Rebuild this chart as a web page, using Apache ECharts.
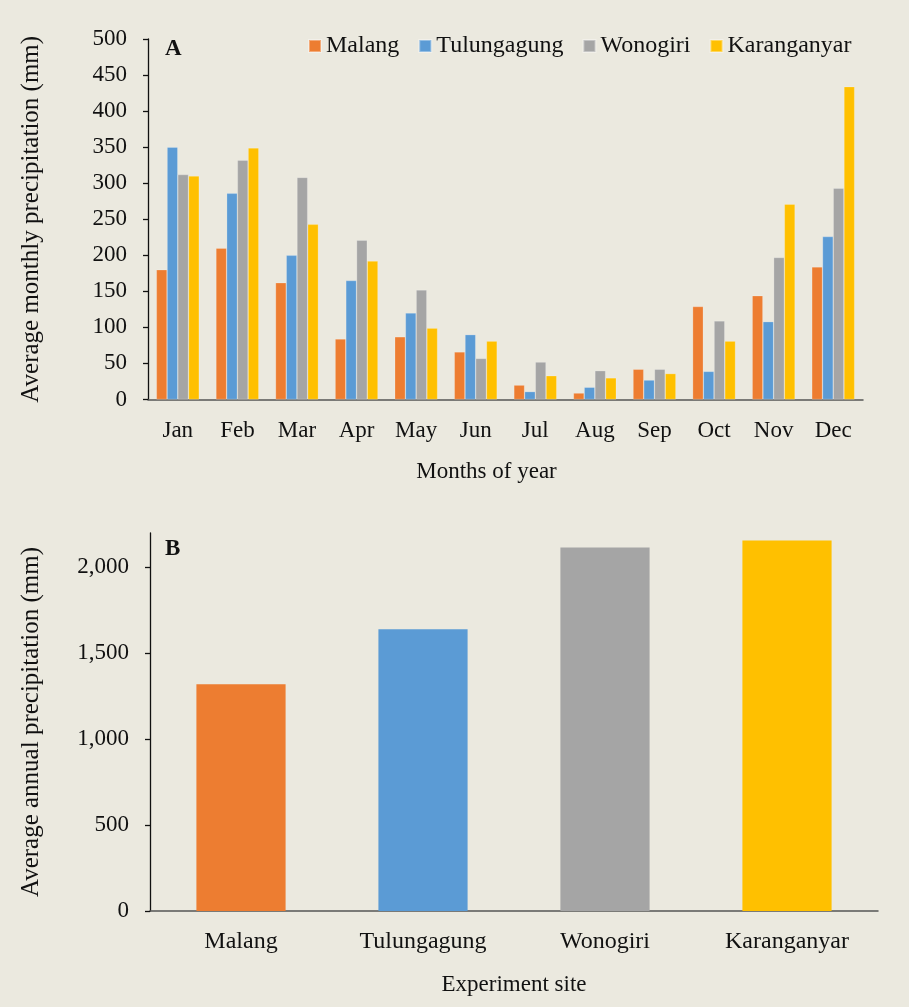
<!DOCTYPE html>
<html>
<head>
<meta charset="utf-8">
<script src="https://cdn.jsdelivr.net/npm/echarts@6/dist/echarts.min.js"></script>
<style>
  html, body { margin: 0; padding: 0; background: #EBE9DF; }
  #chart { width: 909px; height: 1007px; }
</style>
</head>
<body>
<div id="chart"></div>
<script>
// Monthly and annual precipitation at four experiment sites
const months = ['Jan', 'Feb', 'Mar', 'Apr', 'May', 'Jun', 'Jul', 'Aug', 'Sep', 'Oct', 'Nov', 'Dec'];
const sites = ['Malang', 'Tulungagung', 'Wonogiri', 'Karanganyar'];

const malangMonthly      = [180, 210, 162, 84, 87, 66, 20, 9, 42, 129, 144, 184];
const tulungagungMonthly = [350, 286, 200, 165, 120, 90, 11, 17, 27, 39, 108, 226];
const wonogiriMonthly    = [312, 332, 308, 221, 152, 57, 52, 40, 42, 109, 197, 293];
const karanganyarMonthly = [310, 349, 243, 192, 99, 81, 33, 30, 36, 81, 271, 434];

const annualTotals = [1320, 1640, 2115, 2157];

const monthlyTicks = [0, 50, 100, 150, 200, 250, 300, 350, 400, 450, 500];
const annualTicks = [0, 500, 1000, 1500, 2000];

const siteColors = ['#ED7D31', '#5B9BD5', '#A5A5A5', '#FFC000'];
const monthlySeries = [malangMonthly, tulungagungMonthly, wonogiriMonthly, karanganyarMonthly];

const FONT = '"Liberation Serif", "Times New Roman", serif';
const TXT = '#111';

const chart = echarts.init(document.getElementById('chart'), null, { renderer: 'canvas' });

const series = monthlySeries.map((vals, i) => ({
  name: sites[i],
  type: 'bar',
  xAxisIndex: 0,
  yAxisIndex: 0,
  data: vals,
  barGap: '0%',
  barCategoryGap: '28%',
  itemStyle: { color: siteColors[i], borderColor: 'rgba(255,255,255,0.35)', borderWidth: 0.6 }
}));

series.push({
  name: 'Annual',
  type: 'bar',
  xAxisIndex: 1,
  yAxisIndex: 1,
  barCategoryGap: '51%',
  data: annualTotals.map((v, i) => ({ value: v, itemStyle: { color: siteColors[i] } }))
});

chart.setOption({
  backgroundColor: '#EBE9DF',
  animation: false,
  textStyle: { fontFamily: FONT, color: TXT },
  legend: {
    data: sites,
    top: 34,
    left: 308,
    padding: 0,
    itemWidth: 12,
    itemHeight: 12,
    itemGap: 19,
    icon: 'rect',
    textStyle: { fontFamily: FONT, fontSize: 24, color: TXT }
  },
  grid: [
    { left: 148, right: 46, top: 39, bottom: 607.5 },
    { left: 150, right: 31, top: 533, bottom: 96 }
  ],
  xAxis: [
    {
      type: 'category', gridIndex: 0, data: months,
      name: 'Months of year', nameLocation: 'middle', nameGap: 61,
      nameTextStyle: { fontFamily: FONT, fontSize: 23, color: TXT, padding: [0, 38, 0, 0] },
      axisLine: { lineStyle: { color: '#555', width: 1.5 } },
      axisTick: { length: 6, lineStyle: { color: '#222', width: 1.5 } },
      axisLabel: { fontFamily: FONT, fontSize: 23, color: TXT, margin: 20 }
    },
    {
      type: 'category', gridIndex: 1, data: sites,
      name: 'Experiment site', nameLocation: 'middle', nameGap: 62,
      nameTextStyle: { fontFamily: FONT, fontSize: 23, color: TXT },
      axisLine: { lineStyle: { color: '#555', width: 1.5 } },
      axisTick: { length: 6, lineStyle: { color: '#222', width: 1.5 } },
      axisLabel: { fontFamily: FONT, fontSize: 24, color: TXT, margin: 19 }
    }
  ],
  yAxis: [
    {
      type: 'value', gridIndex: 0, min: 0, max: 500, interval: 50,
      name: 'Average monthly precipitation (mm)', nameLocation: 'middle', nameGap: 104,
      nameTextStyle: { fontFamily: FONT, fontSize: 25, color: TXT },
      axisLine: { show: true, lineStyle: { color: '#111', width: 1.3 } },
      axisTick: { show: true, length: 5, lineStyle: { color: '#111', width: 1.3 } },
      axisLabel: { fontFamily: FONT, fontSize: 23, color: TXT, margin: 21,
        customValues: monthlyTicks },
      splitLine: { show: false }
    },
    {
      type: 'value', gridIndex: 1, min: 0, max: 2200, interval: 500,
      name: 'Average annual precipitation (mm)', nameLocation: 'middle', nameGap: 106,
      nameTextStyle: { fontFamily: FONT, fontSize: 25, color: TXT },
      axisLine: { show: true, lineStyle: { color: '#111', width: 1.3 } },
      axisTick: { show: true, length: 5, lineStyle: { color: '#111', width: 1.3 },
        customValues: annualTicks },
      axisLabel: { fontFamily: FONT, fontSize: 23, color: TXT, margin: 21,
        customValues: annualTicks,
        formatter: v => v.toLocaleString('en-US') },
      splitLine: { show: false }
    }
  ],
  graphic: [
    { type: 'text', left: 165, top: 38, style: { text: 'A', font: 'bold 23px ' + FONT, fill: TXT } },
    { type: 'text', left: 165, top: 538, style: { text: 'B', font: 'bold 23px ' + FONT, fill: TXT } }
  ],
  series: series
});
</script>
</body>
</html>
